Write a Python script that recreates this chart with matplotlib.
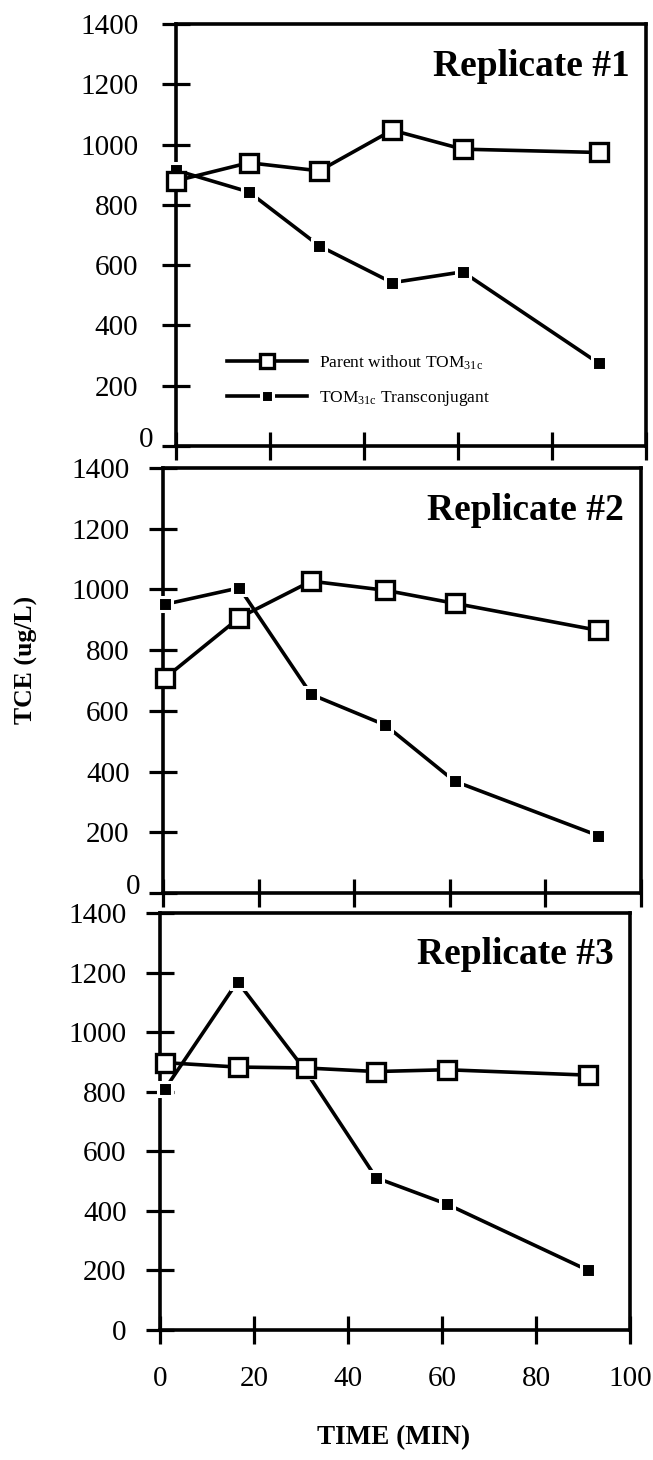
import matplotlib
matplotlib.use("Agg")
import matplotlib.pyplot as plt
from matplotlib.ticker import FuncFormatter

plt.rcParams['font.family'] = ['Liberation Serif', 'DejaVu Serif']
plt.rcParams['mathtext.fontset'] = 'custom'
plt.rcParams['mathtext.rm'] = 'Liberation Serif'
plt.rcParams['mathtext.it'] = 'Liberation Serif'

# sampling times (min)
time_rep1 = [0, 15.5, 30.5, 46, 61, 90]
time_rep2 = [0.5, 16, 31, 46.5, 61, 91]
time_rep3 = [1, 16.5, 31, 46, 61, 91]

# TCE (ug/L), parent strain without TOM31c
parent_rep1 = [880, 940, 913, 1048, 985, 974]
parent_rep2 = [709, 907, 1027, 997, 954, 865]
parent_rep3 = [898, 883, 880, 868, 874, 856]

# TCE (ug/L), TOM31c transconjugant
trans_rep1 = [915, 843, 664, 542, 578, 274]
trans_rep2 = [951, 1005, 654, 553, 368, 189]
trans_rep3 = [808, 1170, 870, 511, 423, 201]

panel_titles = ['Replicate #1', 'Replicate #2', 'Replicate #3']
x_ticks = [0, 20, 40, 60, 80, 100]
y_ticks = [0, 200, 400, 600, 800, 1000, 1200, 1400]

times = [time_rep1, time_rep2, time_rep3]
parents = [parent_rep1, parent_rep2, parent_rep3]
transes = [trans_rep1, trans_rep2, trans_rep3]

fig = plt.figure(figsize=(6.53, 14.6), dpi=100)

# axes boxes in figure fractions (left, bottom, width, height)
boxes = [
    [0.2695, 0.6945, 0.7198, 0.2890],
    [0.2496, 0.3884, 0.7320, 0.2911],
    [0.2450, 0.0890, 0.7198, 0.2856],
]

# the "0" label sits closer to the axis on the upper two panels
no_zero = FuncFormatter(lambda v, p: '' if v == 0 else '%d' % v)

axes = []
for i in range(3):
    ax = fig.add_axes(boxes[i])
    axes.append(ax)

    # transconjugant: small filled squares, white edge leaves a gap in the line
    ax.plot(times[i], transes[i], '-', color='black', lw=2.6,
            marker='s', ms=10, mfc='black', mec='white', mew=2.2,
            clip_on=False, zorder=3, label='TOM$_{31c}$ Transconjugant')
    # parent: large open squares
    ax.plot(times[i], parents[i], '-', color='black', lw=2.6,
            marker='s', ms=12.5, mfc='white', mec='black', mew=2.4,
            clip_on=False, zorder=4, label='Parent without TOM$_{31c}$')

    ax.set_xlim(0, 100)
    ax.set_ylim(0, 1400)
    ax.set_xticks(x_ticks)
    ax.set_yticks(y_ticks)
    ax.tick_params(axis='both', direction='inout', length=20, width=2.3,
                   labelsize=21)
    ax.tick_params(axis='y', pad=17 if i == 0 else 14)
    ax.tick_params(axis='x', pad=16)
    for sp in ax.spines.values():
        sp.set_linewidth(2.6)
    if i < 2:
        ax.tick_params(axis='x', labelbottom=False)
        ax.yaxis.set_major_formatter(no_zero)
        ax.annotate('0', xy=(0, 0), xycoords=('axes fraction', 'data'),
                    xytext=(-16, 4), textcoords='offset points',
                    ha='right', va='center', fontsize=21)

    ax.text(0.965, 0.90, panel_titles[i], transform=ax.transAxes,
            ha='right', va='center', fontsize=27, fontweight='bold')

# legend in the first panel, parent listed first
h, l = axes[0].get_legend_handles_labels()
axes[0].legend([h[1], h[0]], [l[1], l[0]], loc='center left',
               bbox_to_anchor=(0.075, 0.155), frameon=False, fontsize=12.5,
               handlelength=4.6, handletextpad=0.7, labelspacing=1.0,
               numpoints=1, markerscale=0.85)

fig.text(0.04, 0.548, 'TCE (ug/L)', rotation=90, ha='center', va='center',
         fontsize=18.5, fontweight='bold')
fig.text(0.602, 0.015, 'TIME (MIN)', ha='center', va='center',
         fontsize=19.5, fontweight='bold')

fig.savefig('out.png', dpi=100)
